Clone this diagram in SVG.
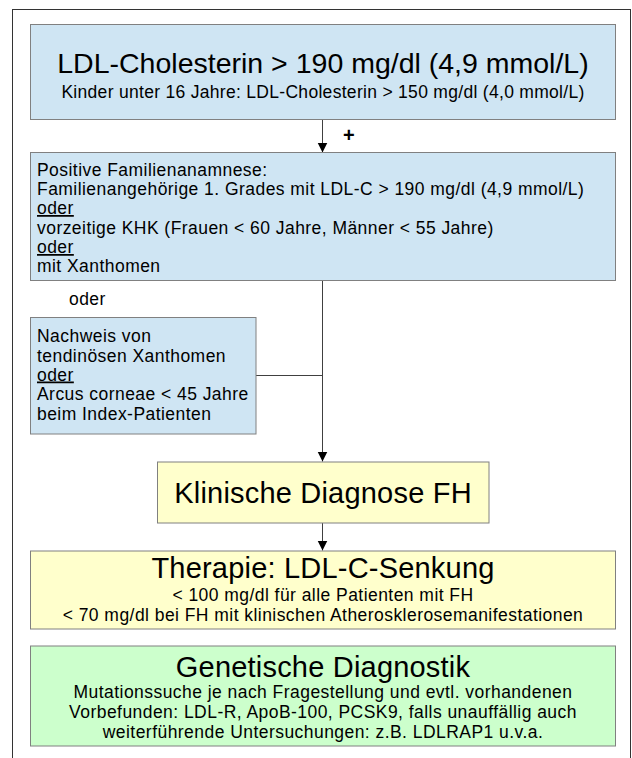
<svg xmlns="http://www.w3.org/2000/svg" width="632" height="758" viewBox="0 0 632 758">
<style>
text{font-family:"Liberation Sans",Arial,sans-serif;fill:#000}
.blue{fill:#cfe5f3;stroke:#808080;stroke-width:1}
.yellow{fill:#ffffcc;stroke:#808080;stroke-width:1}
.green{fill:#ccffcc;stroke:#808080;stroke-width:1}
.body{font-size:17.5px;letter-spacing:0.45px}
.title{font-size:29px;letter-spacing:0.2px}
.u{text-decoration:underline}
.c{text-anchor:middle}
.conn{stroke:#404040;stroke-width:1;fill:none}
</style>
<defs>
<marker id="ah" markerWidth="10" markerHeight="12" refX="10" refY="5" orient="auto" markerUnits="userSpaceOnUse">
<path d="M0,0 L10,5 L0,10 Z" fill="#000"/>
</marker>
</defs>
<rect x="12.5" y="9.5" width="618" height="760" fill="#fff" stroke="#333" stroke-width="1"/>
<g id="connectors">
<line class="conn" x1="322.5" y1="119" x2="322.5" y2="152.5" marker-end="url(#ah)"/>
<text x="343" y="142" font-size="20" font-weight="bold">+</text>
<line class="conn" x1="322.5" y1="281" x2="322.5" y2="461.5" marker-end="url(#ah)"/>
<line class="conn" x1="256" y1="375.5" x2="322.5" y2="375.5"/>
<text class="body" x="69" y="305">oder</text>
<line class="conn" x1="322.5" y1="523" x2="322.5" y2="550.5" marker-end="url(#ah)"/>
</g>
<g id="n1">
<rect class="blue" x="30.5" y="24.5" width="585" height="95"/>
<text class="c" x="323" y="73" style="font-size:28.5px">LDL-Cholesterin &gt; 190 mg/dl (4,9 mmol/L)</text>
<text class="c body" x="323" y="97.5" style="letter-spacing:0.3px">Kinder unter 16 Jahre: LDL-Cholesterin &gt; 150 mg/dl (4,0 mmol/L)</text>
</g>
<g id="n2">
<rect class="blue" x="30.5" y="152.5" width="585" height="128"/>
<text class="body" x="37" y="176">Positive Familienanamnese:</text>
<text class="body" x="37" y="195">Familienangehörige 1. Grades mit LDL-C &gt; 190 mg/dl (4,9 mmol/L)</text>
<text class="body u" x="37" y="214">oder</text>
<text class="body" x="37" y="233.5">vorzeitige KHK (Frauen &lt; 60 Jahre, Männer &lt; 55 Jahre)</text>
<text class="body u" x="37" y="253">oder</text>
<text class="body" x="37" y="272">mit Xanthomen</text>
</g>
<g id="n3">
<rect class="blue" x="30.5" y="317.5" width="225.5" height="116.5"/>
<text class="body" x="37" y="342">Nachweis von</text>
<text class="body" x="37" y="361.5">tendinösen Xanthomen</text>
<text class="body u" x="37" y="380.5">oder</text>
<text class="body" x="37" y="400">Arcus corneae &lt; 45 Jahre</text>
<text class="body" x="37" y="419.5">beim Index-Patienten</text>
</g>
<g id="n4">
<rect class="yellow" x="157.5" y="462" width="331.5" height="61"/>
<text class="c title" x="323" y="503">Klinische Diagnose FH</text>
</g>
<g id="n5">
<rect class="yellow" x="30.5" y="551" width="585" height="78"/>
<text class="c title" x="323" y="578">Therapie: LDL-C-Senkung</text>
<text class="c body" x="323" y="600.5">&lt; 100 mg/dl für alle Patienten mit FH</text>
<text class="c body" x="323" y="620.5">&lt; 70 mg/dl bei FH mit klinischen Atherosklerosemanifestationen</text>
</g>
<g id="n6">
<rect class="green" x="30.5" y="646" width="585" height="100"/>
<text class="c title" x="323" y="677">Genetische Diagnostik</text>
<text class="c body" x="323" y="698">Mutationssuche je nach Fragestellung und evtl. vorhandenen</text>
<text class="c body" x="323" y="718">Vorbefunden: LDL-R, ApoB-100, PCSK9, falls unauffällig auch</text>
<text class="c body" x="323" y="738">weiterführende Untersuchungen: z.B. LDLRAP1 u.v.a.</text>
</g>
</svg>
